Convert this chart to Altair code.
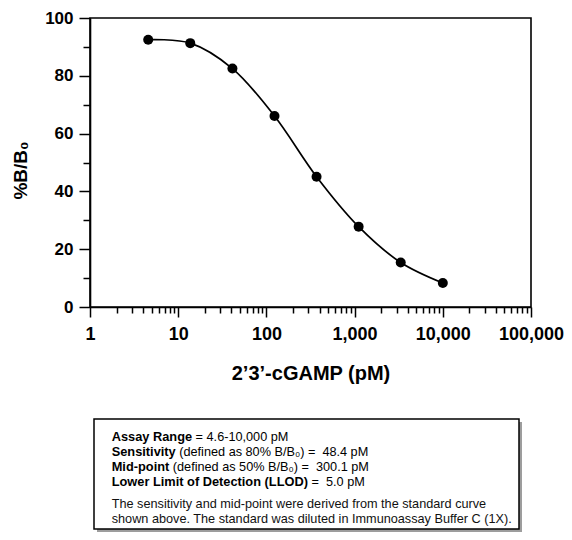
import altair as alt
import pandas as pd

# ---- data ----
conc = [4.57, 13.7, 41.2, 123.5, 370.4, 1111, 3333, 10000]
pct_b_b0 = [92.5, 91.3, 82.5, 66.1, 45.1, 27.8, 15.4, 8.3]

x_major = [1, 10, 100, 1000, 10000, 100000]
x_minor = [m * d for d in [1, 10, 100, 1000, 10000] for m in range(2, 10)]
y_major = [0, 20, 40, 60, 80, 100]
y_minor = [10, 30, 50, 70, 90]

x_title = "2\u20193\u2019-cGAMP (pM)"
y_title = "%B/B\u2080"

info_bold = ["Assay Range", "Sensitivity", "Mid-point", "Lower Limit of Detection (LLOD)"]
info_regular = ["= 4.6-10,000 pM",
                "(defined as 80% B/B\u2080) =\u00a0 48.4 pM",
                "(defined as 50% B/B\u2080) =\u00a0 300.1 pM",
                "=\u00a0 5.0 pM"]
note_lines = ["The sensitivity and mid-point were derived from the standard curve",
              "shown above. The standard was diluted in Immunoassay Buffer C (1X)."]

df = pd.DataFrame({"conc": conc, "pct": pct_b_b0})

FONT = "Liberation Sans"
OX, OY = 90, 18  # page position of plot origin
W, H = 441, 307 - OY

# Helvetica/Arial bold advance widths (1/1000 em) for layout of mixed-weight lines
BOLD_W = {' ': 278, '(': 333, ')': 333, '-': 333, 'A': 722, 'D': 722, 'L': 611, 'M': 833,
          'O': 778, 'R': 722, 'S': 667, 'a': 556, 'c': 556, 'd': 611, 'e': 556, 'f': 333,
          'g': 611, 'i': 278, 'm': 889, 'n': 611, 'o': 611, 'p': 611, 'r': 389, 's': 556,
          't': 333, 'v': 556, 'w': 778, 'y': 556}


def bold_width(s, size):
    return sum(BOLD_W.get(c, 556) for c in s) * size / 1000.0


all_x = sorted(x_major + x_minor)
all_y = sorted(y_major + y_minor)
major_x_expr = "indexof([1,10,100,1000,10000,100000], datum.value) >= 0"
major_y_expr = "datum.value % 20 == 0"

x_enc = alt.X(
    "conc:Q",
    scale=alt.Scale(type="log", domain=[1, 100000], nice=False),
    axis=alt.Axis(
        values=all_x, format=",", labelExpr=f"{major_x_expr} ? datum.label : ''",
        tickSize={"condition": {"test": major_x_expr, "value": 10}, "value": 6},
        title=x_title, titleY=72, titleBaseline="alphabetic",
        labelFlush=False, labelOverlap=False, labelPadding=8, grid=False,
        labelFontSize=18,
    ),
)
y_enc = alt.Y(
    "pct:Q",
    scale=alt.Scale(domain=[0, 100], nice=False),
    axis=alt.Axis(
        values=all_y, labelExpr=f"{major_y_expr} ? datum.label : ''",
        tickSize={"condition": {"test": major_y_expr, "value": 11}, "value": 7},
        title=y_title, titleX=-64, titleY=(170 - OY), titleBaseline="alphabetic",
        titleFontSize=19, labelFontSize=17,
        labelPadding=6, labelOverlap=False, grid=False,
    ),
)

base = alt.Chart(df)
curve = base.mark_line(color="black", strokeWidth=1.7, interpolate="catmull-rom").encode(x=x_enc, y=y_enc)
points = base.mark_point(filled=True, color="black", opacity=1, size=100).encode(x=x_enc, y=y_enc)

one = alt.Data(values=[{"k": 1}])
# info box, page coordinates converted to plot coordinates
bx0, bx1, by0, by1 = 94 - OX, 519 - OX, 419 - OY, 529 - OY
shadow = alt.Chart(one).mark_rect(color="#8c8c8c", opacity=0.85).encode(
    x=alt.value(bx0 + 3), x2=alt.value(bx1 + 3), y=alt.value(by0 + 3), y2=alt.value(by1 + 3))
box = alt.Chart(one).mark_rect(fill="white", stroke="black", strokeWidth=1.5).encode(
    x=alt.value(bx0), x2=alt.value(bx1), y=alt.value(by0), y2=alt.value(by1))

layers = [curve, points, shadow, box]
tx = 111.7 - OX
line_y = [437 - OY, 452 - OY, 467 - OY, 482 - OY]
BSZ, RSZ = 12.8, 12.7
for i, (b, r) in enumerate(zip(info_bold, info_regular)):
    layers.append(alt.Chart(pd.DataFrame({"t": [b]})).mark_text(
        font=FONT, fontSize=BSZ, fontWeight="bold", align="left", baseline="middle", color="black"
    ).encode(x=alt.value(tx), y=alt.value(line_y[i]), text="t:N"))
    rx = tx + bold_width(b, BSZ) + 0.278 * RSZ
    layers.append(alt.Chart(pd.DataFrame({"t": [r]})).mark_text(
        font=FONT, fontSize=RSZ, align="left", baseline="middle", color="black"
    ).encode(x=alt.value(rx), y=alt.value(line_y[i]), text="t:N"))
note_y = [504 - OY, 519 - OY]
for i, s in enumerate(note_lines):
    layers.append(alt.Chart(pd.DataFrame({"t": [s]})).mark_text(
        font=FONT, fontSize=RSZ, align="left", baseline="middle", color="#111"
    ).encode(x=alt.value(tx), y=alt.value(note_y[i]), text="t:N"))

chart = alt.layer(*layers).properties(
    width=W, height=H,
    autosize=alt.AutoSizeParams(type="none"),
    padding={"left": OX - 8, "top": OY - 8, "right": 33, "bottom": 524 - (OY - 8) - H},
).configure_view(
    stroke="black", strokeWidth=1.6
).configure_axis(
    domainColor="black", domainWidth=1.6, tickColor="black", tickWidth=1.5,
    labelFont=FONT, labelFontWeight="bold", labelColor="black",
    titleFont=FONT, titleFontSize=20, titleFontWeight="bold", titleColor="black",
)

chart.save("out.html", embed_options={"renderer": "svg", "actions": False})
